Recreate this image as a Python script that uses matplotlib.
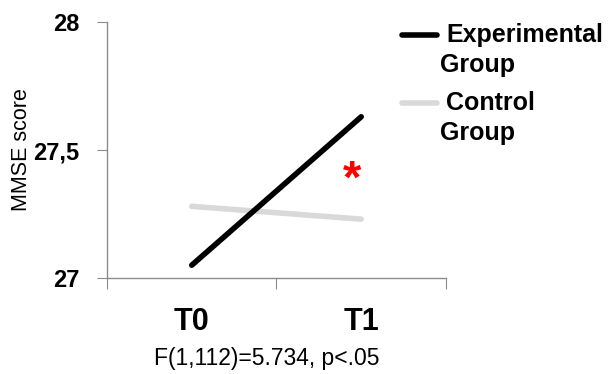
import numpy as np
import matplotlib
matplotlib.use("Agg")
import matplotlib.pyplot as plt
from matplotlib.lines import Line2D

plt.rcParams['font.family'] = ['Liberation Sans', 'DejaVu Sans']

# 数据
time_points = ["T0", "T1"]
experimental = [27.05, 27.63]
control = [27.28, 27.23]
y_ticks = [27, 27.5, 28]
y_tick_labels = ["27", "27,5", "28"]
group_names = ["Experimental\nGroup", "Control\nGroup"]
group_colors = ["#000000", "#d9d9d9"]
stat_text = "F(1,112)=5.734, p<.05"

fig = plt.figure(figsize=(6.1, 3.74), dpi=100)
ax = fig.add_axes([0.1754, 0.2567, 0.5557, 0.6843])

x = np.arange(len(time_points)) + 0.5
ax.plot(x, control, color=group_colors[1], lw=4, solid_capstyle='round')
ax.plot(x, experimental, color=group_colors[0], lw=4, solid_capstyle='round')

ax.set_xlim(0, len(time_points))
ax.set_ylim(27, 28)

# 坐标轴
for side in ["top", "right"]:
    ax.spines[side].set_visible(False)
for side in ["left", "bottom"]:
    ax.spines[side].set_color("#8c8c8c")
    ax.spines[side].set_linewidth(1.0)

ax.set_yticks(y_ticks)
ax.set_yticklabels(y_tick_labels, fontsize=17, fontweight='bold')
ax.tick_params(axis='y', direction='out', length=7, color="#8c8c8c", pad=13)

ax.set_xticks(np.arange(len(time_points) + 1))
ax.set_xticklabels([])
ax.tick_params(axis='x', which='major', direction='out', length=8, color="#8c8c8c")
ax.set_xticks(x, minor=True)
ax.set_xticklabels(time_points, minor=True, fontsize=22, fontweight='bold')
ax.tick_params(axis='x', which='minor', length=0, pad=21)

fig.text(22 / 610, 1 - 150 / 374, "MMSE score", rotation=90, fontsize=15.5,
         ha='center', va='center')

# 显著性标记
ax.text(1.445, 27.38, "*", color='red', fontsize=34, fontweight='bold',
        ha='center', va='center')

fig.text(267 / 610, 1 - 358 / 374, stat_text, fontsize=16.5, ha='center', va='center')

# 图例(手动绘制)
legend_y = [35, 103]
for name, color, yy in zip(group_names, group_colors, legend_y):
    yf = 1 - yy / 374
    fig.add_artist(Line2D([402 / 610, 437 / 610], [yf, yf], color=color, lw=4,
                          transform=fig.transFigure, solid_capstyle='round'))
    fig.text(446 / 610, yf, name.split("\n")[0], fontsize=18, fontweight='bold',
             ha='left', va='center')
    fig.text(440 / 610, yf - 30 / 374, name.split("\n")[1], fontsize=18,
             fontweight='bold', ha='left', va='center')

fig.savefig("out.png", dpi=100)
